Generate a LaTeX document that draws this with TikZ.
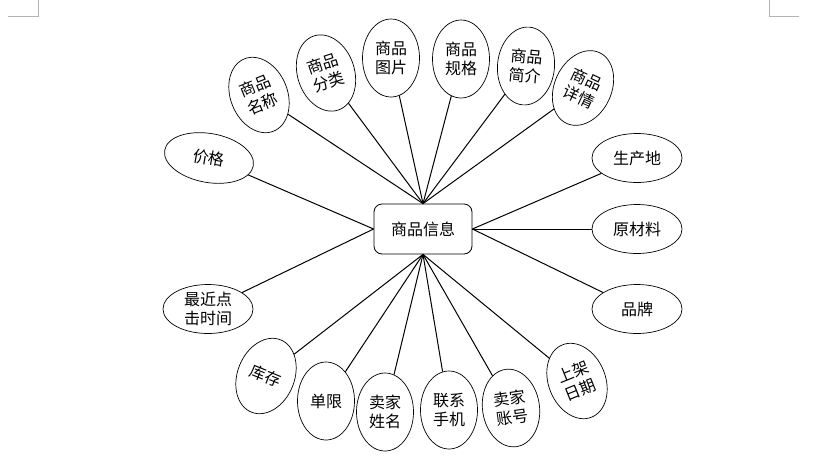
\documentclass[tikz,border=0pt]{standalone}
\usepackage{fontspec}
\setmainfont{Noto Sans CJK SC}
\usetikzlibrary{shapes.geometric}

\begin{document}
\begin{tikzpicture}[
      x=1pt, y=-1pt,
      font=\fontsize{16}{19}\selectfont,
      entity/.style={draw=black, rounded corners=8pt, line width=.8pt,
                     minimum width=98pt, minimum height=50pt, align=center},
      attr/.style={draw=black, ellipse, line width=.7pt, inner sep=0pt,
                   minimum width=57pt, minimum height=78pt, align=center},
      wideattr/.style={draw=black, ellipse, line width=.7pt, inner sep=0pt,
                       minimum width=90pt, minimum height=49pt, align=center},
      link/.style={draw=black, line width=1pt},
      cornermark/.style={draw=gray!60, line width=.6pt}
    ]
    \useasboundingbox (0,0) rectangle (831,464);

    % Page corner marks.
    \draw[cornermark] (8,16) -- (38,16) -- (38,0);
    \draw[cornermark] (769,0) -- (769,16) -- (799,16);

    % Entity.
    \node[entity] (info) at (423,229) {商品信息};

    % Attributes above.
    \node[attr, rotate=22] (pname) at (259,95) {商品\\名称};
    \node[attr, rotate=18] (ptype) at (326,73) {商品\\分类};
    \node[attr] (pimg) at (391,58) {商品\\图片};
    \node[attr] (pspec) at (461,59) {商品\\规格};
    \node[attr, rotate=-5] (pintro) at (526,66) {商品\\简介};
    \node[attr, rotate=-25] (pdetail) at (583,88) {商品\\详情};
    \draw[link] (pname) -- (info.north);
    \draw[link] (ptype) -- (info.north);
    \draw[link] (pimg) -- (info.north);
    \draw[link] (pspec) -- (info.north);
    \draw[link] (pintro) -- (info.north);
    \draw[link] (pdetail) -- (info.north);

    % Attributes to the left.
    \node[wideattr, rotate=-10] (price) at (209,158) {价格};
    \node[wideattr] (lastclick) at (208,309) {最近点\\击时间};
    \draw[link] (price) -- (info.west);
    \draw[link] (lastclick) -- (info.west);

    % Attributes to the right.
    \node[wideattr] (origin) at (637,158) {生产地};
    \node[wideattr] (material) at (637,229) {原材料};
    \node[wideattr] (brand) at (637,309) {品牌};
    \draw[link] (origin) -- (info.east);
    \draw[link] (material) -- (info.east);
    \draw[link] (brand) -- (info.east);

    % Attributes below.
    \node[attr, rotate=-22] (stock) at (266,376) {库存};
    \node[attr] (limit) at (326,401) {单限};
    \node[attr] (sname) at (385,412) {卖家\\姓名};
    \node[attr] (phone) at (449,410) {联系\\手机};
    \node[attr, rotate=8] (sacct) at (511,408) {卖家\\账号};
    \node[attr, rotate=22] (ondate) at (577,381) {上架\\日期};
    \draw[link] (stock) -- (info.south);
    \draw[link] (limit) -- (info.south);
    \draw[link] (sname) -- (info.south);
    \draw[link] (phone) -- (info.south);
    \draw[link] (sacct) -- (info.south);
    \draw[link] (ondate) -- (info.south);
  \end{tikzpicture}
\end{document}
